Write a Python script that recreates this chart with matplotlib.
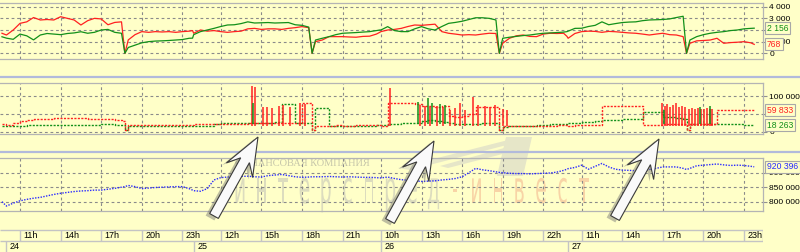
import matplotlib
matplotlib.use('Agg')
import matplotlib.pyplot as plt
import matplotlib.transforms as mtransforms
from matplotlib.lines import Line2D
from matplotlib.patches import FancyArrow, PathPatch, Polygon
from matplotlib.textpath import TextPath
from matplotlib.font_manager import FontProperties
from matplotlib.ticker import FuncFormatter

plt.rcParams['font.family'] = ['Liberation Sans', 'DejaVu Sans']

BG = '#ffffc8'
RED = '#ff2020'
GREEN = '#12901a'
BLUE = '#2a2aff'
GRID = '#8a8a8a'
FRAME = '#b4b4b4'

# торговая сессия 10:00 - 23:50
SESSION = 13 + 50 / 60

days = [24, 25, 26, 27]
day_hours = [10, 10.5, 11, 11.5, 12, 12.5, 13, 13.5, 14, 14.5, 15, 15.5, 16, 16.5,
             17, 17.5, 18, 18.5, 18.75, 19, 19.5, 20, 20.5, 21, 21.5, 22, 22.5, 23,
             23.5, 23.75]
tick_days = [0, 0, 0, 0, 0, 1, 1, 1, 1, 2, 2, 2, 2, 2, 3, 3, 3, 3, 3]
tick_hours = [11, 14, 17, 20, 23, 12, 15, 18, 21, 10, 13, 16, 19, 22, 11, 14, 17, 20, 23]

# верхняя панель (первое значение - 23-е число, 23:30)
red1 = [1720,
        1570, 2000, 2570, 2700, 3070, 2860, 2900, 2860, 3140, 3000, 2860, 2430, 2800, 3000, 2950,
        2450, 2650, 2700, 0, 1150, 1600, 1860, 1800, 1860, 1830, 1860, 1800, 1860, 1900, 1950,
        1720, 2000, 1900, 1950, 1860, 1800, 1860, 1900, 2100, 2140, 2050, 2100, 2100, 2050, 2140,
        2200, 2290, 2200, 0, 1000, 1140, 1430, 1430, 1430, 1400, 1380, 1450, 1470, 1650, 1800,
        1860, 2000, 2050, 2140, 2300, 2430, 2400, 2450, 2500, 1860, 1720, 1650, 1570, 1600, 1570,
        1650, 1720, 1700, 0, 860, 1290, 1500, 1570, 1450, 1430, 1650, 1720, 1700, 1720, 1450,
        1290, 1700, 1860, 1900, 1880, 1800, 1880, 1850, 1800, 1750, 1720, 1650, 1570, 1650, 1720,
        1600, 1570, 1430, 0, 860, 1070, 1100, 1140, 1290, 860, 920, 950, 1000, 900, 768]
green1 = [1420,
          1300, 1200, 1650, 1500, 1150, 1570, 1700, 1650, 1600, 1700, 1750, 1850, 1720, 1800, 2000,
          2050, 1800, 1720, 0, 500, 700, 900, 1000, 1050, 1070, 1100, 1140, 1180, 1290, 1300,
          1600, 1860, 2000, 2140, 2300, 2430, 2450, 2550, 2700, 2600, 2620, 2640, 2600, 2620, 2640,
          2450, 2400, 2250, 0, 1140, 1290, 1430, 1600, 1720, 1750, 1780, 1820, 1860, 1950, 2000,
          2000, 2290, 1950, 1860, 1860, 2100, 2290, 2100, 2000, 2300, 2570, 2650, 2750, 2900, 3050,
          3050, 3000, 2860, 0, 1290, 1380, 1450, 1520, 1570, 1650, 1720, 1750, 1780, 1820, 1860,
          1900, 2140, 2150, 2300, 2400, 2700, 2450, 2550, 2640, 2680, 2700, 2800, 2860, 2880, 2900,
          2950, 3070, 3180, 0, 1140, 1430, 1600, 1720, 1800, 1860, 1950, 2000, 2100, 2140, 2156]

# средняя панель
red2 = [20000,
        18500, 24000, 30700, 33000, 34700, 34700, 36000, 37500, 37500, 37000, 37500, 37500, 36000,
        34700, 34700, 34700, 32000, 30700, 4000, 18500, 18500, 18000, 18500, 18500, 18500, 19000,
        18500, 18500, 19000, 19500,
        20000, 21300, 21300, 21300, 21300, 22000, 22000, 22500, 23000, 24000, 24000, 24000, 25000,
        25000, 24000, 25000, 80000, 80000, 3000, 17000, 17000, 17000, 17500, 17000, 17000, 17500,
        17500, 18000, 18500, 19000,
        17000, 80000, 80000, 80000, 80000, 78000, 72000, 72000, 70000, 72000, 45000, 40000, 45000,
        50000, 70000, 70000, 70000, 70000, 3000, 15600, 15600, 16000, 16000, 16500, 16500, 17000,
        17000, 17500, 17500, 18000,
        17000, 17500, 18000, 18000, 18500, 72000, 72000, 72000, 72000, 72000, 72000, 18000, 18000,
        18000, 20000, 22000, 22000, 22000, 3000, 20000, 20000, 22000, 22000, 62000, 62000, 61000,
        61000, 60000, 60000, 59833]
green2 = [15600,
          15600, 15600, 15600, 18000, 18500, 18000, 18500, 18500, 19000, 18500, 18500, 18000, 19000,
          18500, 20000, 21000, 19500, 18500, 4000, 15600, 15600, 15600, 15000, 15600, 15600, 15600,
          15600, 15600, 15600, 15600,
          15600, 15600, 17000, 21000, 23000, 24000, 25000, 25000, 25000, 25000, 24000, 24000, 26000,
          78000, 78000, 25000, 24000, 24000, 3000, 67000, 67000, 16000, 16000, 17000, 16500, 16500,
          17000, 17000, 17500, 18000,
          18000, 20000, 22000, 24000, 25000, 25000, 30000, 32000, 30000, 26000, 24000, 22000, 21000,
          20000, 22000, 24000, 25000, 25000, 3000, 14000, 15000, 15600, 16000, 17000, 18000, 19000,
          20000, 21000, 22000, 23000,
          24000, 25000, 26000, 28000, 30000, 32000, 33000, 34000, 35000, 35000, 35000, 56000, 56000,
          56000, 40000, 40000, 38000, 36000, 3000, 22000, 22000, 22000, 22000, 21000, 21000, 20000,
          20000, 19000, 18500, 18263]

# всплески на средней панели
red_spike_day = [1] * 10 + [2] * 17 + [3] * 18
red_spike_hour = [14.31, 14.53, 15.12, 15.42, 15.79, 16.31, 16.6, 17.12, 17.86, 18.23,
                  10.68, 12.9, 13.27, 13.64, 14.16, 14.6, 15.12, 15.49, 15.86, 16.23, 16.82,
                  17.19, 17.71, 18.08, 18.45, 19.04, 19.34,
                  16.95, 17.17, 17.32, 17.54, 17.76, 17.98, 18.2, 18.42, 18.64, 18.94, 19.16,
                  19.38, 19.6, 19.82, 20.05, 20.27, 20.49, 20.64]
red_spike_top = [129000, 126000, 70000, 70000, 68000, 72000, 75000, 70000, 80000, 78000,
                 123000, 75000, 72000, 70000, 72000, 70000, 60000, 68000, 80000, 60000, 99000,
                 75000, 72000, 70000, 75000, 65000, 60000,
                 80000, 72000, 78000, 70000, 75000, 80000, 70000, 72000, 70000, 65000, 66000,
                 65000, 66000, 64000, 65000, 66000, 64000, 65000]
green_spike_day = [1, 2, 2, 2, 2, 2, 3, 3, 3]
green_spike_hour = [14.38, 12.74, 13.48, 13.78, 14.37, 14.74, 17.1, 19.75, 20.49]
green_spike_top = [80000, 85000, 95000, 80000, 78000, 75000, 60000, 70000, 72000]

# нижняя панель
blue = [800000,
        785000, 795000, 803000, 808000, 812000, 815000, 820000, 825000, 829000, 832000, 835000,
        837000, 838000, 840000, 840000, 843000, 846000, 850000, 852000, 856000, 852000, 845000,
        847000, 849000, 850000, 851000, 852000, 852000, 845000, 840000,
        838000, 836000, 845000, 875000, 883000, 885000, 886000, 887000, 888000, 886000, 885000,
        890000, 892000, 894000, 890000, 886000, 884000, 885000, 886000, 886000, 886000, 887000,
        886000, 885000, 886000, 885000, 884000, 884000, 883000, 882000,
        882000, 885000, 880000, 876000, 874000, 872000, 870000, 871000, 872000, 875000, 877000,
        880000, 886000, 900000, 915000, 910000, 907000, 903000, 901000, 900000, 898000, 897000,
        897000, 896000, 897000, 898000, 899000, 902000, 908000, 912000,
        914000, 918000, 926000, 912000, 922000, 932000, 920000, 912000, 909000, 908000, 907000,
        908000, 911000, 915000, 920000, 920000, 920000, 915000, 911000, 915000, 924000, 926000,
        928000, 930000, 927000, 925000, 926000, 925000, 922000, 920396]


def pos(d, h):
    # положение на оси времени (торговые часы от 24-го 10:00)
    return d * SESSION + h - 10


times = [pos(-1, 23.5)] + [pos(d, h) for d in range(len(days)) for h in day_hours]
ticks = [pos(d, h) for d, h in zip(tick_days, tick_hours)]
XMIN, XMAX = -0.478, 55.9

W, H = 800, 252
fig = plt.figure(figsize=(W / 100, H / 100), dpi=100, facecolor=BG)
pix = mtransforms.Affine2D().scale(1 / 100) + fig.dpi_scale_trans


def fmt(v, _):
    return f'{int(round(v)):,}'.replace(',', ' ')


def add_panel(top, bottom, ylim, yticks):
    ax = fig.add_axes([0, 1 - bottom / H, 763 / W, (bottom - top) / H])
    ax.set_facecolor(BG)
    ax.set_xlim(XMIN, XMAX)
    ax.set_ylim(*ylim)
    ax.set_xticks(ticks)
    ax.set_yticks(yticks)
    ax.yaxis.set_major_formatter(FuncFormatter(fmt))
    ax.tick_params(axis='x', length=0, labelbottom=False)
    ax.tick_params(axis='y', left=False, labelleft=False, right=True, labelright=True,
                   length=3, color='#909090', labelsize=6, pad=1.5)
    ax.grid(True, color=GRID, linestyle=(0, (2.5, 2.5)), linewidth=0.8)
    ax.spines['left'].set_visible(False)
    for s in ('top', 'bottom', 'right'):
        ax.spines[s].set_color(FRAME)
        ax.spines[s].set_linewidth(0.9)
    return ax


def value_box(ax, value, color):
    ax.text(1 + 4 / 763, value, fmt(value, None), transform=ax.get_yaxis_transform(),
            color=color, fontsize=6.2, ha='left', va='center', zorder=6, clip_on=False,
            bbox=dict(boxstyle='square,pad=0.18', fc=BG, ec='#a8a8a8', lw=0.8))


ax1 = add_panel(2.7, 59, (-489, 4343), [0, 1000, 2000, 3000, 4000])
ax1.plot(times, red1, color=RED, lw=0.9)
ax1.plot(times, green1, color=GREEN, lw=0.9)
value_box(ax1, green1[-1], GREEN)
value_box(ax1, red1[-1], RED)

ax2 = add_panel(83.3, 134, (-7100, 136900), [0, 50000, 100000])
ax2.plot(times, green2, color=GREEN, lw=1.0, ls=(0, (1.5, 1)), drawstyle='steps-post')
ax2.plot(times, red2, color=RED, lw=1.0, ls=(0, (1.5, 1)), drawstyle='steps-post')
ax2.vlines([pos(d, h) for d, h in zip(red_spike_day, red_spike_hour)], 15000,
           red_spike_top, color=RED, lw=1.1)
ax2.vlines([pos(d, h) for d, h in zip(green_spike_day, green_spike_hour)], 20000,
           green_spike_top, color=GREEN, lw=1.1)
value_box(ax2, red2[-1], RED)
value_box(ax2, green2[-1], GREEN)

ax3 = add_panel(158.3, 211, (767900, 949700), [800000, 850000, 900000])
ax3.plot(times, blue, color=BLUE, lw=1.0, ls=(0, (1, 1)))
value_box(ax3, blue[-1], BLUE)

# водяной знак
for pts in ([(398, 168), (520, 137), (530, 139), (410, 170)],
            [(440, 166), (522, 143), (526, 148), (448, 168)],
            [(497, 176), (506, 137), (532, 137), (523, 176)]):
    poly = Polygon([(x, H - y) for x, y in pts], closed=True, transform=pix,
                   fc='#e6e6c8', ec='none', zorder=0.4)
    poly.set_clip_on(False)
    ax3.add_artist(poly)
ax3.text(235, H - 163, 'ФИНАНСОВАЯ КОМПАНИЯ', transform=pix, family='Liberation Serif',
         fontsize=7.5, color='#c6c6aa', ha='left', va='center', zorder=0.5, clip_on=False)
prop = FontProperties(family='DejaVu Sans')
for i, ch in enumerate('интерспред-инвест'):
    tp = TextPath((0, 0), ch, size=1, prop=prop)
    ext = tp.get_extents()
    tr = (mtransforms.Affine2D().translate(-(ext.x0 + ext.x1) / 2, 0).scale(19, 45)
          .translate(240 + 21.5 * i, H - 203) + pix)
    patch = PathPatch(tp, transform=tr, fc='#dcdcbe' if i < 10 else '#f8d4a6',
                      ec='none', zorder=0.5)
    patch.set_clip_on(False)
    ax3.add_artist(patch)

# шкала времени
ax4 = fig.add_axes([0, 0, 763 / W, 23 / H])
ax4.set_xlim(XMIN, XMAX)
ax4.set_ylim(0, 23)
ax4.axis('off')
ax4.hlines([22.5, 11], XMIN, XMAX, color='#c4c4c4', lw=1)
ax4.vlines(ticks + [XMAX], 11, 22.5, color='#c4c4c4', lw=1)
for x, h in zip(ticks, tick_hours):
    ax4.text(x + 0.25, 16.6, f'{h}h', fontsize=6.5, ha='left', va='center')
starts = [pos(d, 10) for d in range(len(days))]
ax4.vlines(starts, 0, 11, color='#c4c4c4', lw=1)
for x, d in zip(starts, days):
    ax4.text(x + 0.25, 5.4, str(d), fontsize=6.5, ha='left', va='center')

# разделители панелей
for y in (77, 152):
    fig.add_artist(Line2D([0, 1], [1 - y / H] * 2, transform=fig.transFigure,
                          color='#b2badb', lw=1.6))

# стрелки
for tail, tip in (((214, 216), (258, 137)), ((390, 221), (434, 141)), ((615, 218), (659, 139))):
    x0, y0 = tail[0], H - tail[1]
    dx, dy = tip[0] - tail[0], tail[1] - tip[1]
    kw = dict(width=10, head_width=30, head_length=38, overhang=0.3,
              length_includes_head=True, transform=pix)
    fig.add_artist(FancyArrow(x0 - 4, y0 - 2, dx, dy, fc='#707070', ec='none', alpha=0.45,
                              zorder=8, **kw))
    fig.add_artist(FancyArrow(x0, y0, dx, dy, fc='#fafafa', ec='#3a3a3a', lw=0.8,
                              zorder=9, **kw))

fig.savefig('out.png', dpi=100, facecolor=BG)
